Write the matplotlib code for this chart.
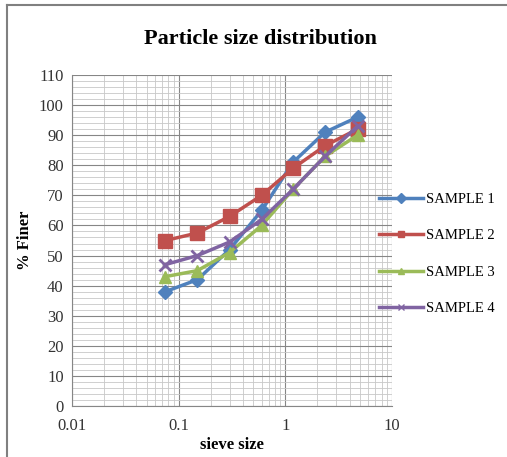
import numpy as np
import matplotlib
matplotlib.use("Agg")
import matplotlib.pyplot as plt
from matplotlib.lines import Line2D
from matplotlib.ticker import MultipleLocator, LogLocator, FixedLocator, NullFormatter

# sieve sizes (mm) and % finer for each sample
sieve = [0.075, 0.15, 0.3, 0.6, 1.18, 2.36, 4.75]
sample1 = [38, 42, 52, 65, 81, 91, 96]
sample2 = [55, 57.5, 63, 70, 79, 86.5, 92]
sample3 = [43, 45, 51, 60, 72, 83, 90]
sample4 = [47, 50, 54.5, 62, 72, 83, 93]
labels = ["SAMPLE 1", "SAMPLE 2", "SAMPLE 3", "SAMPLE 4"]

colors = ["#4F81BD", "#C0504D", "#9BBB59", "#8064A2"]
markers = ["D", "s", "^", "x"]
msizes = [7, 10, 8, 9]

plt.rcParams['font.family'] = ['Liberation Serif', 'DejaVu Serif']

fig = plt.figure(figsize=(5.07, 4.57), dpi=100)
ax = fig.add_axes([72/507, 51/457, 320/507, 331/457])

for ys, c, m, ms, lab in zip([sample1, sample2, sample3, sample4], colors, markers, msizes, labels):
    ax.plot(sieve, ys, color=c, marker=m, markersize=ms, linewidth=2.5,
            markeredgewidth=2 if m == "x" else 1, label=lab)

ax.set_xscale('log')
ax.set_xlim(0.01, 10)
ax.set_ylim(0, 110)
ax.yaxis.set_major_locator(MultipleLocator(10))
ax.yaxis.set_minor_locator(MultipleLocator(2))
ax.xaxis.set_major_locator(FixedLocator([0.01, 0.1, 1, 10]))
ax.xaxis.set_minor_locator(LogLocator(base=10, subs=np.arange(2, 10)))
ax.xaxis.set_minor_formatter(NullFormatter())
ax.set_xticklabels(["0.01", "0.1", "1", "10"])

ax.grid(which='major', color='#868686', linewidth=0.8)
ax.grid(which='minor', color='#c8c8c8', linewidth=0.6)
ax.set_axisbelow(True)
for s in ['top', 'right']:
    ax.spines[s].set_visible(False)
ax.spines['left'].set_color('#868686')
ax.spines['bottom'].set_color('#868686')
ax.tick_params(which='both', length=0, labelsize=12, colors='#333333', pad=6)
ax.tick_params(axis='x', pad=9)

ax.set_title("Particle size distribution", fontsize=16, fontweight='bold', pad=22, x=0.59)
ax.set_xlabel("sieve size", fontsize=12, fontweight='bold', labelpad=2)
ax.set_ylabel("% Finer", fontsize=12, fontweight='bold', labelpad=4)

handles = [Line2D([], [], color=c, marker=m, markersize=5, linewidth=2.5) for c, m in zip(colors, markers)]
fig.legend(handles, labels, loc='center left', bbox_to_anchor=(366/507, 1 - 254/457), frameon=False,
           fontsize=10.5, handlelength=3.0, handletextpad=0.2, labelspacing=1.6)

# chart border (left and top edges)
fig.add_artist(Line2D([7/507, 7/507], [0, 1 - 5/457], color='#808080', linewidth=1.5))
fig.add_artist(Line2D([7/507, 1], [1 - 5/457, 1 - 5/457], color='#808080', linewidth=1.5))

fig.savefig("out.png", dpi=100)
